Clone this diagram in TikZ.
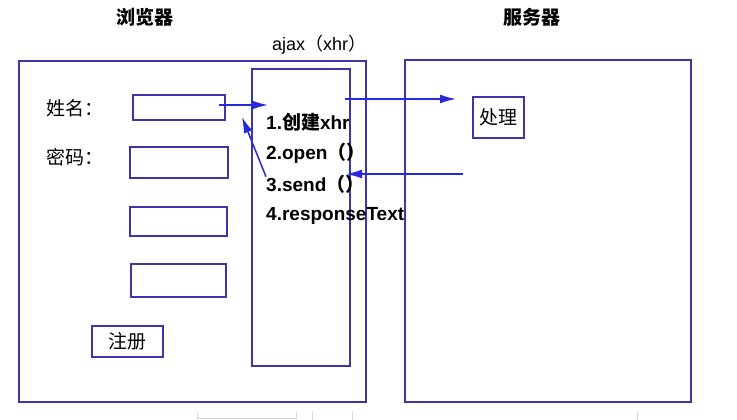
\documentclass[tikz,border=0pt]{standalone}
\usepackage{fontspec}
\setmainfont{Liberation Sans}
\newfontfamily\cjk{Noto Sans CJK SC}
\usetikzlibrary{arrows.meta}
\definecolor{boxblue}{RGB}{62,52,172}
\definecolor{arrblue}{RGB}{40,40,220}
\definecolor{faint}{RGB}{214,214,236}
\newcommand{\zh}[1]{{\cjk #1}}
\begin{document}
\begin{tikzpicture}[x=1pt,y=-1pt]
  \tikzset{box node/.style={draw=boxblue, line width=2.3pt, fill=none, inner sep=0pt},
           step text/.style={anchor=west, inner sep=0pt, font=\fontsize{19}{19}\selectfont\bfseries},
           label text/.style={inner sep=0pt, font=\fontsize{19}{19}\selectfont\cjk},
           arrow line/.style={draw=arrblue, line width=1.5pt, -{Latex[length=16pt,width=9pt]}}}
  \useasboundingbox (0,0) rectangle (737,420);
  % faint leftovers at the bottom edge
  \draw[faint, line width=1pt] (197,412) -- (197,418) -- (296,418) -- (296,412);
  \draw[faint, line width=1pt] (312,411) -- (312,420) (352,411) -- (352,420) (637,411) -- (637,420);
  % titles
  \node[label text, font=\fontsize{19}{19}\selectfont\cjk\bfseries] (browsertitle) at (145,17) {浏览器};
  \node[label text, font=\fontsize{19}{19}\selectfont\cjk\bfseries] (servertitle) at (532,17) {服务器};
  \node[inner sep=0pt, anchor=west, font=\fontsize{18}{18}\selectfont] (ajaxtitle) at (272,45) {ajax\zh{（}xhr\zh{）}};
  % browser side
  \node[box node, minimum width=347pt, minimum height=341pt] (browser) at (192.5,231.5) {};
  \node[box node, minimum width=98pt, minimum height=297pt] (ajax) at (301,217.5) {};
  \node[box node, minimum width=92pt, minimum height=25pt] (namebox) at (179,107.5) {};
  \node[box node, minimum width=98pt, minimum height=31pt] (pwdbox) at (179,162.5) {};
  \node[box node, minimum width=97pt, minimum height=29pt] (field3) at (178.5,221.5) {};
  \node[box node, minimum width=95pt, minimum height=33pt] (field4) at (178.5,280.5) {};
  \node[box node, minimum width=71pt, minimum height=31pt, label text] (register) at (127.5,341.5) {注册};
  \node[label text, anchor=west] (namelabel) at (46,108) {姓名：};
  \node[label text, anchor=west] (pwdlabel) at (46,157) {密码：};
  % steps
  \node[step text] (step1) at (266,122) {1.\zh{创建}xhr};
  \node[step text] (step2) at (266,153) {2.open\zh{（）}};
  \node[step text] (step3) at (266,184) {3.send\zh{（）}};
  \node[step text] (step4) at (266,216) {4.responseText};
  % server side
  \node[box node, minimum width=286pt, minimum height=342pt] (server) at (548,231) {};
  \node[box node, minimum width=51pt, minimum height=41pt, label text] (process) at (498.5,117.5) {处理};
  % arrows
  \coordinate (sendin) at (268,105);
  \coordinate (sendup) at (242,117);
  \coordinate (toserver) at (456,99);
  \coordinate (back) at (346,174);
  \draw[arrow line] ([xshift=-7pt]namebox.east |- sendin) -- (sendin);
  \draw[arrow line] ([yshift=-2pt]step3.north west) -- (sendup);
  \draw[arrow line] ([xshift=-6pt]ajax.east |- toserver) -- (toserver);
  \draw[arrow line] (463,174) -- (back);
\end{tikzpicture}
\end{document}
